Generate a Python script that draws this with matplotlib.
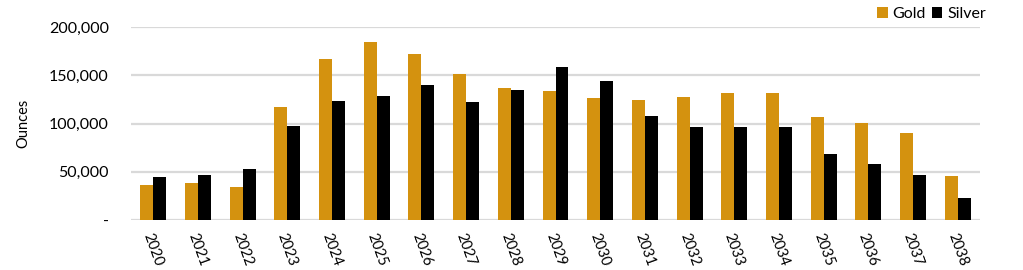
import matplotlib
matplotlib.use("Agg")
import matplotlib.pyplot as plt
import numpy as np
from matplotlib.ticker import FuncFormatter

years = [str(y) for y in range(2020, 2039)]
gold = [36500, 38500, 34500, 117000, 167000, 184000, 172500, 151000, 136500,
        133500, 126500, 124000, 127500, 131500, 131500, 107000, 100500, 90000, 45500]
silver = [44500, 46500, 53000, 97500, 123000, 128500, 140000, 122000, 134500,
          158500, 144000, 107500, 96500, 96500, 96500, 68500, 58000, 46500, 23000]

GOLD_C = "#D4920F"
SILVER_C = "#000000"

plt.rcParams['font.family'] = ['Lato', 'DejaVu Sans']

fig = plt.figure(figsize=(10.23, 2.70), dpi=100)
ax = fig.add_axes([131/1023, 1-220/270, (980-131)/1023, (220-27)/270])

x = np.arange(len(years))
w = 0.29
ax.bar(x - w/2, gold, width=w, color=GOLD_C, label="Gold", zorder=3)
ax.bar(x + w/2, silver, width=w, color=SILVER_C, label="Silver", zorder=3)

ax.set_xlim(-0.5, len(years) - 0.5)
ax.set_ylim(0, 200000)
ax.set_yticks([0, 50000, 100000, 150000, 200000])
ax.yaxis.set_major_formatter(FuncFormatter(lambda v, p: "-" if v == 0 else f"{int(v):,}"))
ax.grid(axis='y', color='#D9D9D9', linewidth=1.6, zorder=0)
ax.set_axisbelow(True)
for s in ax.spines.values():
    s.set_visible(False)
ax.tick_params(axis='y', length=0, pad=16, labelsize=11.5, colors='#000000')
ax.tick_params(axis='x', length=0, pad=8, labelsize=10.5)
ax.set_xticks(x)
ax.set_xticklabels(years, rotation=-70, ha='center', va='top')
ax.set_ylabel("Ounces", fontsize=10.5, labelpad=13)

fig.legend(loc='center right', bbox_to_anchor=(986/1023, 1-14/270), ncol=2,
           frameon=False, fontsize=11.5, handlelength=0.65, handleheight=0.65,
           handletextpad=0.3, columnspacing=0.4, borderaxespad=0, borderpad=0)

fig.savefig("out.png", dpi=100)
